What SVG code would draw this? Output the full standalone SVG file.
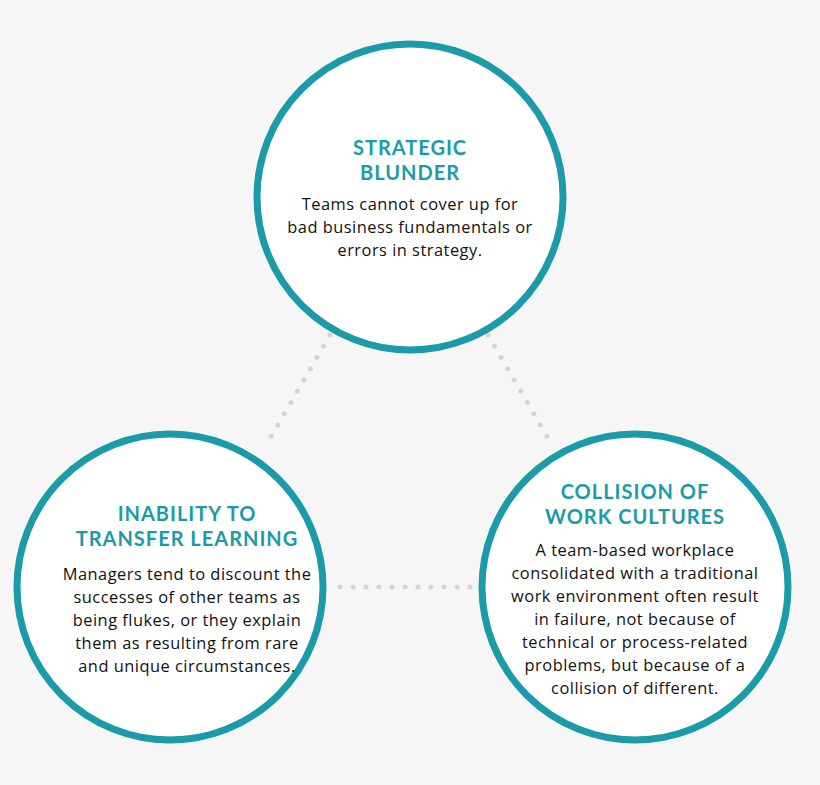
<svg xmlns="http://www.w3.org/2000/svg" width="820" height="785" viewBox="0 0 820 785">
<style>
.c{fill:#fff;stroke:#1a9ba7;stroke-width:7}
.t{font-family:"Lato","Liberation Sans",sans-serif;font-weight:bold;font-size:20px;fill:#1a9ba7;text-anchor:middle;letter-spacing:1px}
.b{font-family:"Open Sans","Liberation Sans",sans-serif;font-size:16.4px;fill:#111;text-anchor:middle;letter-spacing:0.5px}
.d{stroke:#d4d4d4;stroke-width:5;stroke-linecap:round;stroke-dasharray:0 13;fill:none}
</style>
<rect width="820" height="785" fill="#f6f6f6"/>
<g id="connectors">
<path class="d" d="M330 335 L266 445"/>
<path class="d" d="M488 335 L552 445"/>
<path class="d" d="M340 587 L480 587"/>
</g>
<g id="top">
<circle class="c" cx="410" cy="197" r="153"/>
<text class="t" x="410" y="155">STRATEGIC</text>
<text class="t" x="410" y="180">BLUNDER</text>
<text class="b" x="410" y="210">Teams cannot cover up for</text>
<text class="b" x="410" y="233">bad business fundamentals or</text>
<text class="b" x="410" y="256">errors in strategy.</text>
</g>
<g id="left">
<circle class="c" cx="170" cy="587" r="153"/>
<text class="t" x="187" y="521">INABILITY TO</text>
<text class="t" x="187" y="546">TRANSFER LEARNING</text>
<text class="b" x="187" y="580">Managers tend to discount the</text>
<text class="b" x="187" y="603">successes of other teams as</text>
<text class="b" x="187" y="626">being flukes, or they explain</text>
<text class="b" x="187" y="649">them as resulting from rare</text>
<text class="b" x="187" y="672">and unique circumstances.</text>
</g>
<g id="right">
<circle class="c" cx="635" cy="587" r="153"/>
<text class="t" x="635" y="499">COLLISION OF</text>
<text class="t" x="635" y="524">WORK CULTURES</text>
<text class="b" x="635" y="556">A team-based workplace</text>
<text class="b" x="635" y="579">consolidated with a traditional</text>
<text class="b" x="635" y="602">work environment often result</text>
<text class="b" x="635" y="625">in failure, not because of</text>
<text class="b" x="635" y="648">technical or process-related</text>
<text class="b" x="635" y="671">problems, but because of a</text>
<text class="b" x="635" y="694">collision of different.</text>
</g>
</svg>
